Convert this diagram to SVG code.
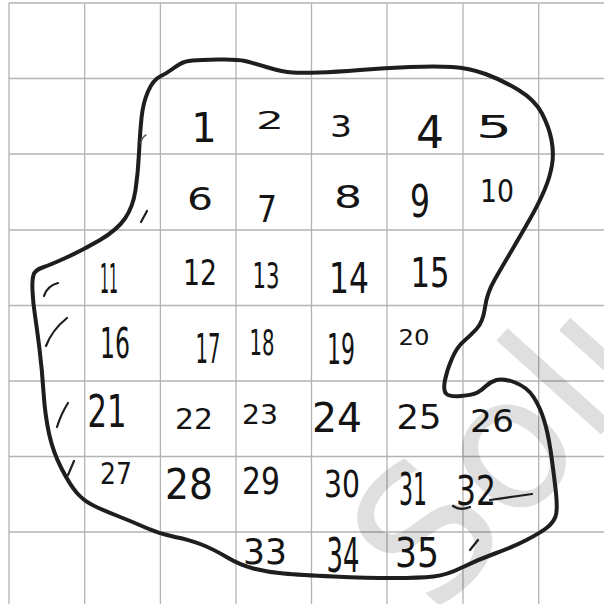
<svg xmlns="http://www.w3.org/2000/svg" width="604" height="604" viewBox="0 0 604 604">
<style>
.grid line{stroke:#b3b3b3;stroke-width:1.3}
.num{font-family:"DejaVu Sans",sans-serif;fill:#141414;text-anchor:middle}
.ink{fill:none;stroke:#1e1e1e;stroke-linecap:round;stroke-linejoin:round}
.wm{font-family:"DejaVu Sans",sans-serif;font-size:185px;fill:#000;opacity:0.12}
</style>
<rect width="604" height="604" fill="#fff"/>
<g class="grid">
<line x1="9" y1="3" x2="9" y2="604"/>
<line x1="84.7" y1="3" x2="84.7" y2="604"/>
<line x1="160.4" y1="3" x2="160.4" y2="604"/>
<line x1="236" y1="3" x2="236" y2="604"/>
<line x1="311.5" y1="3" x2="311.5" y2="604"/>
<line x1="387" y1="3" x2="387" y2="604"/>
<line x1="463" y1="3" x2="463" y2="604"/>
<line x1="538.7" y1="3" x2="538.7" y2="604"/>
<line x1="9" y1="3" x2="604" y2="3"/>
<line x1="9" y1="78.5" x2="604" y2="78.5"/>
<line x1="9" y1="154" x2="604" y2="154"/>
<line x1="9" y1="230" x2="604" y2="230"/>
<line x1="9" y1="305.5" x2="604" y2="305.5"/>
<line x1="9" y1="381" x2="604" y2="381"/>
<line x1="9" y1="456.5" x2="604" y2="456.5"/>
<line x1="9" y1="532" x2="604" y2="532"/>
</g>
<text class="wm" x="435" y="619" transform="rotate(-48 435 619)">Solutions</text>
<g id="boundary">
<path class="ink" stroke-width="4" d="M33.5,275 Q35,270 42.5,267.5 Q50,265 66.5,257.5 Q83,250 100,240 Q117,230 125,218.5 Q133,207 135.5,190 Q138,173 139,153 Q140,133 141.5,118 Q143,103 148,91.5 Q153,80 160,76.5 Q167,73 171,70 Q175,67 180,64 Q185,61 192.5,60.5 Q200,60 218.5,59.5 Q237,59 245,61 Q253,63 268,67.5 Q283,72 292.5,72.5 Q302,73 318.5,72.5 Q335,72 360,70 Q385,68 410,67 Q435,66 452,67 Q469,68 485.5,74 Q502,80 518.5,90 Q535,100 542,113.5 Q549,127 551.5,140 Q554,153 552,165 Q550,177 544.5,190 Q539,203 530.5,218 Q522,233 512,250 Q502,267 494.5,280 Q487,293 485,307.5 Q483,322 476.5,329 Q470,336 463.5,341.5 Q457,347 452,358.5 Q447,370 445,380 Q443,390 446,393.5 Q449,397 461,396 Q473,395 477.5,392.5 Q482,390 486,386 Q490,382 496.5,380 Q503,378 515,382.5 Q527,387 533.5,397 Q540,407 544,420 Q548,433 550.5,450 Q553,467 555.5,488.5 Q558,510 555.5,516.5 Q553,523 546.5,528 Q540,533 526.5,540 Q513,547 495,553.5 Q477,560 462,567.5 Q447,575 433.5,576.5 Q420,578 393.5,578 Q367,578 333.5,576.5 Q300,575 283.5,573.5 Q267,572 253.5,568.5 Q240,565 226.5,557 Q213,549 201.5,544.5 Q190,540 175,537 Q160,534 146.5,528 Q133,522 116.5,515.5 Q100,509 91.5,504.5 Q83,500 76.5,492.5 Q70,485 61.5,468.5 Q53,452 49,433.5 Q45,415 43.5,392 Q42,369 39.5,349 Q37,329 35,315.5 Q33,302 32.5,291 Q32,280 33.5,275 Z"/>
</g>
<g id="ticks" class="ink" stroke-width="2.2">
<path d="M141,143 Q142,137 146,135" stroke="#666" stroke-width="1.5"/>
<path d="M141,222 L147,211"/>
<path d="M44,296 Q47,286 58,283"/>
<path d="M46,346 Q52,330 67,318"/>
<path d="M57,427 Q61,414 68,403"/>
<path d="M68,475 L74,461"/>
<path d="M470,550 L478,540"/>
<path d="M453,506 Q460,511 470,507"/>
<path d="M490,500 Q510,497 532,494"/>
</g>
<g id="cells">
<text class="num" x="204" y="142" font-size="40">1</text>
<text class="num" x="270" y="129" font-size="24" textLength="28" lengthAdjust="spacingAndGlyphs">2</text>
<text class="num" x="341" y="137" font-size="30" textLength="22" lengthAdjust="spacingAndGlyphs">3</text>
<text class="num" x="430" y="148" font-size="44" textLength="28" lengthAdjust="spacingAndGlyphs">4</text>
<text class="num" x="494" y="138" font-size="32" textLength="36" lengthAdjust="spacingAndGlyphs">5</text>
<text class="num" x="200" y="210" font-size="32" textLength="26" lengthAdjust="spacingAndGlyphs">6</text>
<text class="num" x="267" y="222" font-size="38" textLength="20" lengthAdjust="spacingAndGlyphs">7</text>
<text class="num" x="348" y="208" font-size="32" textLength="28" lengthAdjust="spacingAndGlyphs">8</text>
<text class="num" x="420" y="217" font-size="44" textLength="20" lengthAdjust="spacingAndGlyphs">9</text>
<text class="num" x="497" y="202" font-size="32" textLength="34" lengthAdjust="spacingAndGlyphs">10</text>
<text class="num" x="109" y="293" font-size="40" textLength="18" lengthAdjust="spacingAndGlyphs">11</text>
<text class="num" x="200" y="285" font-size="36" textLength="34" lengthAdjust="spacingAndGlyphs">12</text>
<text class="num" x="266" y="288" font-size="36" textLength="27" lengthAdjust="spacingAndGlyphs">13</text>
<text class="num" x="349" y="293" font-size="42" textLength="40" lengthAdjust="spacingAndGlyphs">14</text>
<text class="num" x="430" y="287" font-size="40" textLength="39" lengthAdjust="spacingAndGlyphs">15</text>
<text class="num" x="115" y="358" font-size="42" textLength="30" lengthAdjust="spacingAndGlyphs">16</text>
<text class="num" x="208" y="363" font-size="40" textLength="25" lengthAdjust="spacingAndGlyphs">17</text>
<text class="num" x="262" y="355" font-size="36" textLength="25" lengthAdjust="spacingAndGlyphs">18</text>
<text class="num" x="341" y="364" font-size="42" textLength="28" lengthAdjust="spacingAndGlyphs">19</text>
<text class="num" x="414" y="345" font-size="22" textLength="31" lengthAdjust="spacingAndGlyphs">20</text>
<text class="num" x="107" y="427" font-size="44" textLength="39" lengthAdjust="spacingAndGlyphs">21</text>
<text class="num" x="194" y="429" font-size="28" textLength="38" lengthAdjust="spacingAndGlyphs">22</text>
<text class="num" x="260" y="424" font-size="27" textLength="36" lengthAdjust="spacingAndGlyphs">23</text>
<text class="num" x="337" y="432" font-size="40" textLength="50" lengthAdjust="spacingAndGlyphs">24</text>
<text class="num" x="419" y="429" font-size="34" textLength="45" lengthAdjust="spacingAndGlyphs">25</text>
<text class="num" x="492" y="432" font-size="32" textLength="44" lengthAdjust="spacingAndGlyphs">26</text>
<text class="num" x="116" y="484" font-size="30" textLength="32" lengthAdjust="spacingAndGlyphs">27</text>
<text class="num" x="189" y="499" font-size="42" textLength="48" lengthAdjust="spacingAndGlyphs">28</text>
<text class="num" x="261" y="494" font-size="38" textLength="38" lengthAdjust="spacingAndGlyphs">29</text>
<text class="num" x="342" y="497" font-size="38" textLength="36" lengthAdjust="spacingAndGlyphs">30</text>
<text class="num" x="413" y="505" font-size="44" textLength="28" lengthAdjust="spacingAndGlyphs">31</text>
<text class="num" x="476" y="505" font-size="40" textLength="40" lengthAdjust="spacingAndGlyphs">32</text>
<text class="num" x="265" y="564" font-size="36" textLength="44" lengthAdjust="spacingAndGlyphs">33</text>
<text class="num" x="343" y="572" font-size="48" textLength="33" lengthAdjust="spacingAndGlyphs">34</text>
<text class="num" x="417" y="567" font-size="40" textLength="44" lengthAdjust="spacingAndGlyphs">35</text>
</g>
</svg>
